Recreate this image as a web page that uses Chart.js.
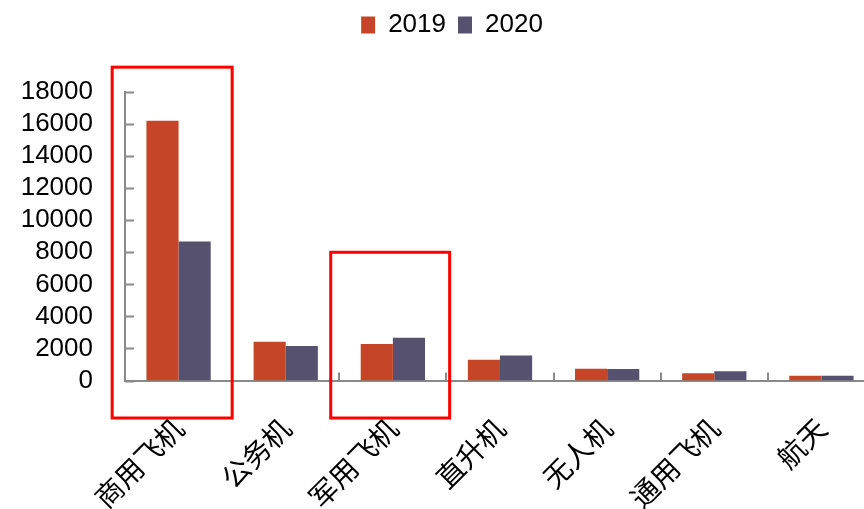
<!DOCTYPE html>
<html>
<head>
<meta charset="utf-8">
<script src="https://cdn.jsdelivr.net/npm/chart.js@4"></script>
<style>
  html, body { margin: 0; padding: 0; background: #fff; overflow: hidden; }
  #wrap { width: 864px; height: 509px; overflow: hidden; }
</style>
</head>
<body>
<div id="wrap"><canvas id="myChart" width="904" height="509"></canvas></div>
<script>
'use strict';

let categories = ['商用飞机', '公务机', '军用飞机', '直升机', '无人机', '通用飞机', '航天'];
let seriesNames = ['2019', '2020'];
let values2019 = [16200, 2420, 2270, 1290, 730, 460, 290];
let values2020 = [8680, 2150, 2670, 1560, 720, 580, 290];
let yTicks = [0, 2000, 4000, 6000, 8000, 10000, 12000, 14000, 16000, 18000];

let axisColor = '#898989';
let numFont = "'Liberation Sans', Arial, sans-serif";

// red highlight boxes, in category / value units
let boxes = [
  {cat: 0, left: -0.62, right: 0.50, top: 19550, bottom: -2340},
  {cat: 2, left: -0.58, right: 0.53, top: 8000, bottom: -2340}
];

let innerTicks = {
  id: 'innerTicks',
  afterDraw(chart) {
    let ctx = chart.ctx;
    let x = chart.scales.x;
    let y = chart.scales.y;
    let area = chart.chartArea;
    ctx.save();
    ctx.strokeStyle = axisColor;
    ctx.lineWidth = 2;
    ctx.beginPath();
    y.ticks.forEach(function (t) {
      let py = Math.round(y.getPixelForValue(t.value)) + 0.5;
      ctx.moveTo(area.left, py);
      ctx.lineTo(area.left + 9, py);
    });
    for (let i = 1; i <= categories.length; i++) {
      let px = i < categories.length
        ? (x.getPixelForValue(i - 1) + x.getPixelForValue(i)) / 2
        : area.right;
      px = Math.round(px);
      ctx.moveTo(px, area.bottom);
      ctx.lineTo(px, area.bottom - 8);
    }
    ctx.stroke();

    // highlight boxes
    let catW = x.getPixelForValue(1) - x.getPixelForValue(0);
    ctx.strokeStyle = '#FF0000';
    ctx.lineWidth = 3;
    boxes.forEach(function (b) {
      let c = x.getPixelForValue(b.cat);
      let x1 = c + b.left * catW;
      let x2 = c + b.right * catW;
      let y1 = y.getPixelForValue(b.top);
      let y2 = y.getPixelForValue(b.bottom);
      ctx.strokeRect(x1, y1, x2 - x1, y2 - y1);
    });
    ctx.restore();
  }
};

let ctx = document.getElementById('myChart').getContext('2d');
let myChart = new Chart(ctx, {
  type: 'bar',
  data: {
    labels: categories,
    datasets: [{
      label: seriesNames[0],
      data: values2019,
      backgroundColor: '#C44527',
      borderWidth: 0,
      categoryPercentage: 0.6,
      barPercentage: 1.0
    }, {
      label: seriesNames[1],
      data: values2020,
      backgroundColor: '#56516F',
      borderWidth: 0,
      categoryPercentage: 0.6,
      barPercentage: 1.0
    }]
  },
  options: {
    responsive: false,
    animation: false,
    devicePixelRatio: 1,
    layout: {padding: 0},
    plugins: {
      legend: {
        position: 'top',
        labels: {
          color: '#000',
          font: {family: numFont, size: 26},
          boxWidth: 14,
          boxHeight: 17,
          padding: 12
        }
      },
      // blank spacer between legend and plot
      title: {
        display: true,
        text: ' ',
        weight: 500,
        font: {size: 12, lineHeight: 1},
        padding: 16
      },
      tooltip: {enabled: false}
    },
    scales: {
      x: {
        grid: {display: false, drawTicks: false},
        border: {display: true, color: axisColor, width: 2},
        ticks: {
          color: '#000',
          font: {family: "'Noto Sans CJK SC', sans-serif", size: 28},
          minRotation: 45,
          maxRotation: 45,
          autoSkip: false,
          padding: 31
        },
        afterFit(scale) {
          scale.height = 128.5;
          scale.paddingRight = 29;
        }
      },
      y: {
        min: 0,
        max: 18000,
        grid: {display: false, drawTicks: false},
        border: {display: true, color: axisColor, width: 2},
        ticks: {
          color: '#000',
          font: {family: numFont, size: 26},
          stepSize: 2000,
          autoSkip: false,
          padding: 32,
          callback: function (v) { return yTicks.indexOf(v) >= 0 ? String(v) : ''; }
        },
        afterFit(scale) {
          scale.width = 125;
          scale.paddingTop = 92;
        }
      }
    }
  },
  plugins: [innerTicks]
});
</script>
</body>
</html>
